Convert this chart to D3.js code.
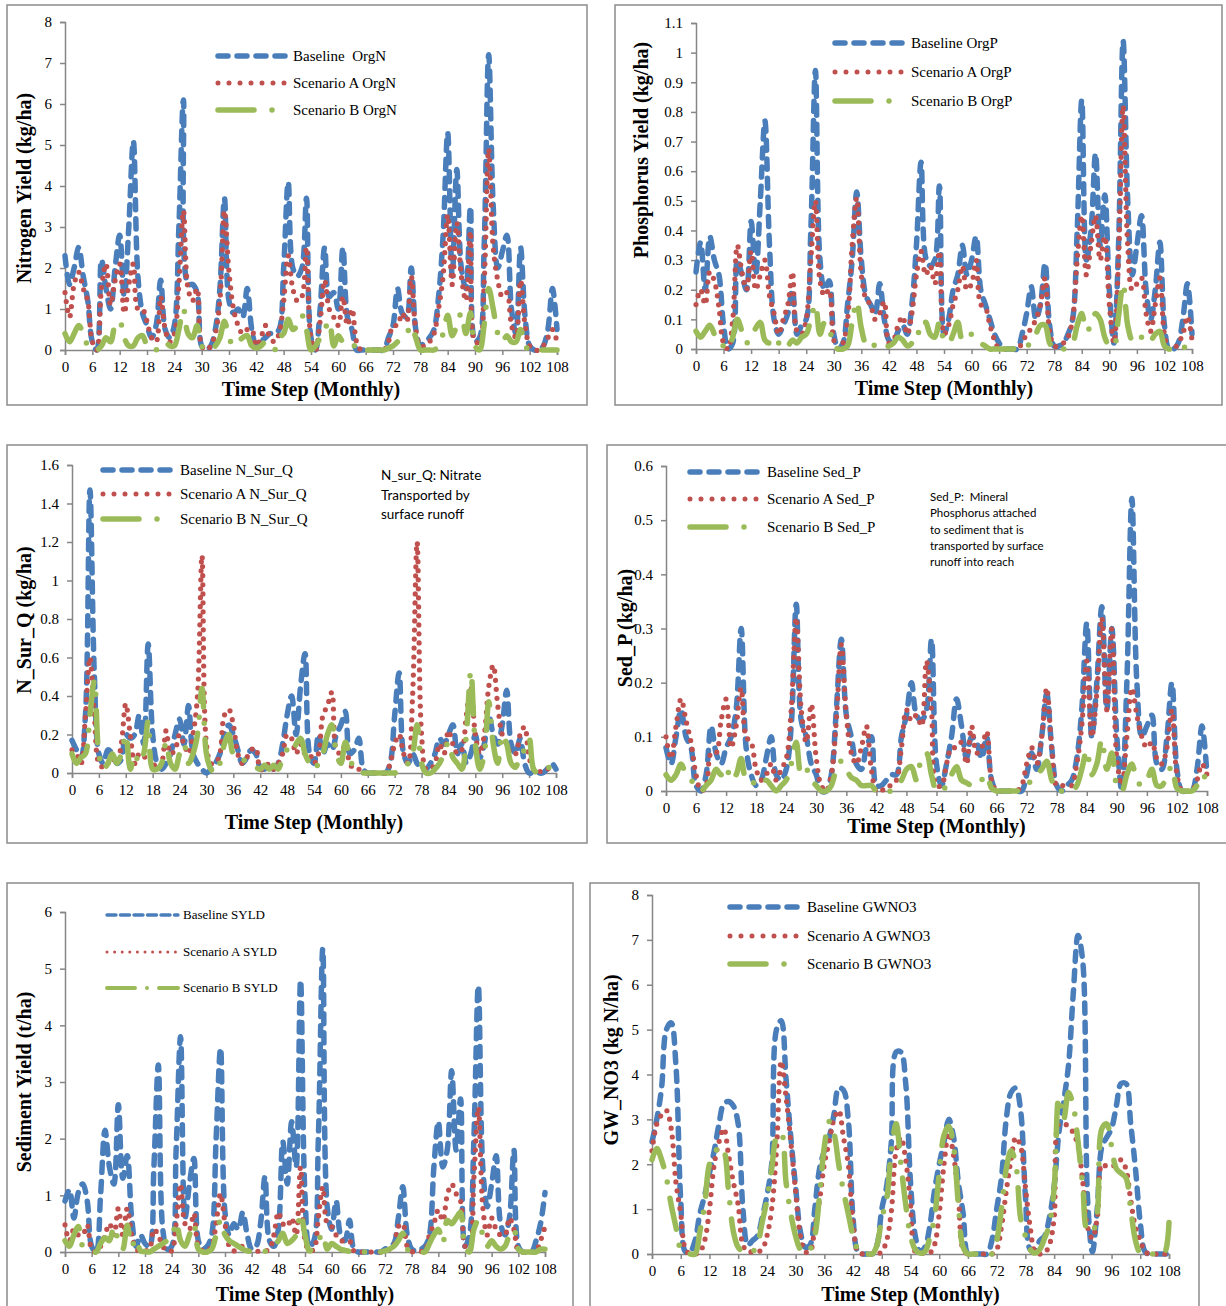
<!DOCTYPE html>
<html>
<head>
<meta charset="utf-8">
<script src="https://cdn.jsdelivr.net/npm/d3@7"></script>
<style>
  body { margin: 0; background: #fff; }
  svg { display: block; }
</style>
</head>
<body>
<svg id="chart" width="1226" height="1306"></svg>
<script>
// months 0..108 and the labelled ticks
var months = d3.range(0, 109)
var xTicks = d3.range(0, 109, 6)

// ---- Organic N (kg/ha)
var orgN_base = [2.3,1.6,2.0,2.5,1.8,1.2,0.2,0,2.2,1.5, 1.0,2.0,2.8,1.3,3.0,5.1,1.8,0.9,0.6,0.3,
  0.6,1.7,0.5,0.3,0.6,3.0,6.1,1.6,1.6,1.4, 0.1,0,0.1,0.5,1.5,3.7,1.2,0.9,1.0,0.8,
  1.5,0.5,0.1,0.2,0.3,0.4,0.4,0.5,2.0,4.1, 2.0,1.8,2.0,3.7,0.3,0,1.0,2.5,1.3,1.4,
  1.0,2.5,0.8,0.5,0,0,0,0,0,0, 0,0.3,0.6,1.5,0.9,0.8,2.0,0.5,0.1,0.2,
  0.3,0.5,1.3,2.8,5.3,1.8,4.4,2.0,1.5,3.5, 0.2,0.3,2.5,7.2,3.5,2.0,2.4,2.8,1.0,0.4,
  2.5,0.8,0.1,0,0,0.1,0.5,1.5,0.5]
var orgN_A = [1.4,0.8,1.6,1.9,1.5,1.2,0.2,0,1.5,2.1, 1.1,1.7,2.1,0.9,1.6,2.1,1.0,1.0,0.7,0.3,
  0.2,1.3,0.5,0.2,0.4,1.6,3.4,1.5,1.2,1.5, 0.1,0,0.1,0.4,1.2,3.4,1.9,1.0,0.6,0.4,
  0.5,0.5,0.1,0.3,0.6,0.3,0.2,0.4,1.2,2.3, 1.5,1.2,1.3,2.5,0.3,0,0.7,1.7,1.0,0.8,
  0.6,1.3,0.6,1.0,0.2,0,0,0,0,0, 0,0.2,0.6,0.6,0.9,0.7,1.8,0.5,0.1,0.1,
  0.2,0.4,1.0,1.8,3.3,1.6,3.1,1.8,1.2,2.9, 0.2,0.2,1.6,4.9,2.5,1.7,1.3,1.4,0.6,0.3,
  1.7,0.6,0.1,0,0,0.1,0.3,0.5,0.2]
var orgN_B = [0.4,0.2,0.4,0.6,0.4,0.1,0,0,0.1,0.3, 0.2,0.6,0.7,0.3,0.1,0.1,0.3,0.35,0.1,0,
  0,0.1,0.2,0.1,0.1,0.5,1.0,0.4,0.3,0.6, 0.1,0,0,0.1,0.3,0.7,0.3,0.1,0.2,0.3,
  0.35,0.1,0.05,0.1,0.2,0.1,0,0.3,0.4,0.75, 0.5,0.6,0.85,0.5,0,0.1,0.3,0.5,0.7,0.1,
  0.35,0.2,0.2,0.2,0,0,0,0,0,0, 0,0.05,0.1,0.2,0.3,0.4,0.6,0.3,0,0,
  0,0,0.1,0.4,0.85,0.35,0.6,0.9,0.4,0.9, 0.1,0,0.6,1.5,1.0,0.4,0.2,0.35,0.2,0.2,
  0.5,0.1,0,0,0,0,0,0,0]

// ---- Organic P (kg/ha)
var orgP_base = [0.26,0.36,0.2,0.38,0.3,0.25,0.08,0,0.02,0.3, 0.25,0.2,0.43,0.25,0.5,0.77,0.35,0.1,0.05,0.08,
  0.12,0.2,0.05,0.08,0.1,0.4,0.94,0.3,0.2,0.23, 0.05,0,0.02,0.15,0.3,0.53,0.3,0.18,0.15,0.12,
  0.22,0.1,0.03,0.02,0.06,0.08,0.05,0.15,0.35,0.63, 0.31,0.28,0.3,0.55,0.05,0.1,0.2,0.25,0.35,0.25,
  0.3,0.38,0.2,0.15,0.1,0.05,0.02,0,0,0, 0,0.05,0.12,0.21,0.1,0.15,0.29,0.08,0.01,0.01,
  0.02,0.05,0.1,0.4,0.84,0.3,0.4,0.66,0.35,0.52, 0.2,0.02,0.35,1.04,0.5,0.25,0.35,0.45,0.2,0.1,
  0.2,0.36,0.08,0,0,0.02,0.1,0.22,0.05]
var orgP_A = [0.15,0.2,0.15,0.26,0.23,0.14,0.02,0,0.1,0.35, 0.26,0.2,0.33,0.2,0.25,0.3,0.18,0.12,0.05,0.1,
  0.15,0.26,0.06,0.05,0.1,0.3,0.5,0.23,0.18,0.2, 0.03,0,0.02,0.1,0.35,0.51,0.25,0.17,0.15,0.1,
  0.12,0.16,0.02,0.03,0.08,0.11,0.05,0.12,0.25,0.33, 0.25,0.28,0.22,0.33,0.05,0.08,0.15,0.2,0.28,0.2,
  0.22,0.3,0.15,0.14,0.08,0.03,0,0,0,0, 0,0.02,0.05,0.07,0.1,0.15,0.24,0.06,0.01,0.01,
  0.02,0.04,0.1,0.3,0.45,0.25,0.35,0.45,0.3,0.38, 0.15,0.02,0.3,0.82,0.35,0.2,0.22,0.24,0.12,0.06,
  0.15,0.24,0.05,0,0,0.02,0.05,0.11,0.03]
var orgP_B = [0.06,0.04,0.06,0.08,0.05,0.02,0.01,0,0.04,0.1, 0.06,0.02,0.04,0.07,0.09,0.03,0.02,0.04,0.02,0,
  0.01,0.03,0.02,0.04,0.05,0.1,0.15,0.05,0.09,0.07, 0.01,0,0,0.01,0.09,0.16,0.07,0.02,0.03,0.01,
  0.02,0.01,0.01,0.02,0.04,0.03,0.01,0.02,0.06,0.05, 0.09,0.05,0.04,0.09,0.03,0.02,0.05,0.09,0.03,0.03,
  0.05,0.04,0.02,0.01,0,0,0,0,0,0, 0,0,0.01,0.02,0.05,0.08,0.08,0.02,0,0,
  0,0.01,0.02,0.08,0.12,0.06,0.08,0.12,0.1,0.04, 0.01,0.01,0.11,0.22,0.08,0.03,0.05,0.04,0.05,0.03,
  0.05,0.06,0.01,0,0,0,0,0.02,0.03]

// ---- Nitrate in surface runoff (kg/ha)
var nsq_base = [0.17,0.12,0.08,0.3,1.47,0.5,0.1,0.05,0.12,0.1, 0.05,0.07,0.2,0.18,0.2,0.3,0.15,0.67,0.2,0.05,
  0.02,0.05,0.1,0.2,0.28,0.15,0.35,0.1,0.05,0.02, 0,0.02,0.05,0.1,0.2,0.25,0.2,0.12,0.05,0.08,
  0.12,0.1,0.03,0.02,0.04,0.02,0.05,0.15,0.3,0.4, 0.2,0.45,0.62,0.1,0.05,0.2,0.1,0.15,0.12,0.2,
  0.25,0.32,0.1,0.12,0.18,0.02,0,0,0,0, 0,0.05,0.3,0.52,0.1,0.05,0.1,0.05,0.02,0.02,
  0.05,0.1,0.18,0.15,0.2,0.25,0.1,0.15,0.05,0.1, 0.2,0.08,0.15,0.3,0.2,0.15,0.25,0.43,0.15,0.1,
  0.18,0.05,0,0,0,0,0.02,0.05,0.02]
var nsq_A = [0.12,0.1,0.05,0.3,0.6,0.3,0.05,0.03,0.05,0.08, 0.05,0.15,0.36,0.2,0.05,0.1,0.08,0.1,0.06,0.02,
  0.05,0.22,0.1,0.12,0.2,0.15,0.1,0.2,0.4,1.13, 0.15,0.05,0.05,0.1,0.3,0.33,0.25,0.1,0.05,0.08,
  0.12,0.13,0.02,0.02,0.05,0.02,0.05,0.1,0.2,0.18, 0.1,0.15,0.1,0.1,0.05,0.1,0.3,0.35,0.42,0.12,
  0.1,0.15,0.05,0.02,0.02,0,0,0,0,0, 0,0.05,0.15,0.2,0.1,0.05,0.4,1.2,0.2,0.02,
  0.02,0.05,0.15,0.1,0.22,0.15,0.1,0.12,0.3,0.44, 0.2,0.1,0.2,0.45,0.56,0.35,0.2,0.15,0.1,0.1,
  0.2,0.24,0.08,0.02,0,0.02,0.02,0.03,0.03]
var nsq_B = [0.1,0.05,0.08,0.1,0.3,0.48,0.1,0.02,0.05,0.1, 0.05,0.1,0.2,0.02,0.1,0.05,0.1,0.27,0.02,0.02,
  0.05,0.16,0.05,0.02,0.1,0.15,0.05,0.1,0.2,0.44, 0.1,0.02,0,0.05,0.15,0.2,0.1,0.1,0.08,0.05,
  0.04,0.03,0.02,0.04,0.02,0.04,0.02,0.08,0.12,0.1, 0.15,0.18,0.1,0.05,0.02,0.05,0.1,0.2,0.25,0.1,
  0.05,0.16,0.08,0.02,0.01,0,0,0,0,0, 0,0,0,0.01,0.02,0.05,0.1,0.25,0.05,0,
  0,0.02,0.05,0.1,0.16,0.08,0.05,0.02,0.2,0.53, 0.15,0.02,0.1,0.37,0.15,0.05,0.2,0.15,0.05,0.03,
  0.1,0.12,0.18,0.02,0,0,0.02,0.04,0.05]

// ---- Mineral P attached to sediment (kg/ha)
var sedP_base = [0.08,0.05,0.1,0.15,0.1,0.08,0.01,0,0.03,0.12, 0.07,0.05,0.08,0.1,0.15,0.3,0.08,0.03,0.01,0.02,
  0.06,0.1,0.03,0.02,0.04,0.12,0.345,0.13,0.1,0.05, 0.03,0,0,0.03,0.15,0.28,0.14,0.1,0.05,0.04,
  0.08,0.1,0.01,0.01,0.02,0.03,0.03,0.1,0.14,0.2, 0.14,0.13,0.15,0.28,0.05,0.01,0.05,0.1,0.17,0.12,
  0.06,0.1,0.09,0.06,0.1,0.02,0,0,0,0, 0,0,0.03,0.07,0.04,0.1,0.18,0.08,0.01,0,
  0.01,0.02,0.06,0.15,0.31,0.1,0.2,0.34,0.15,0.3, 0.1,0,0.2,0.54,0.2,0.1,0.12,0.14,0.05,0.04,
  0.1,0.2,0.04,0,0,0,0.04,0.12,0.03]
var sedP_A = [0.1,0.06,0.12,0.17,0.13,0.09,0.03,0,0.01,0.07, 0.07,0.13,0.17,0.08,0.12,0.19,0.1,0.09,0.04,0.02,
  0.03,0.05,0.02,0.04,0.06,0.15,0.32,0.15,0.09,0.16, 0.06,0.01,0,0.03,0.13,0.27,0.14,0.07,0.05,0.08,
  0.12,0.04,0,0,0.01,0.01,0.02,0.08,0.15,0.13, 0.14,0.12,0.24,0.15,0.01,0.01,0.05,0.08,0.08,0.09,
  0.05,0.12,0.07,0.08,0.11,0.02,0,0,0,0, 0,0.01,0.05,0.08,0.05,0.1,0.19,0.08,0.01,0.01,
  0.01,0.01,0.05,0.12,0.24,0.1,0.18,0.32,0.15,0.3, 0.06,0.01,0.1,0.19,0.14,0.1,0.08,0.09,0.06,0.05,
  0.08,0.15,0.03,0,0,0,0.02,0.05,0.03]
var sedP_B = [0.03,0.02,0.03,0.05,0.03,0.02,0.01,0,0.01,0.02, 0.04,0.03,0.045,0.02,0.03,0.06,0.02,0.02,0.01,0.01,
  0.02,0.01,0,0.01,0.02,0.05,0.09,0.03,0.04,0.02, 0.01,0,0,0.01,0.04,0.055,0.04,0.025,0.02,0.01,
  0.01,0.01,0,0,0,0,0.01,0.02,0.04,0.045, 0.02,0.06,0.07,0.03,0,0,0.01,0.03,0.045,0.02,
  0.015,0.01,0.01,0.02,0.03,0.005,0,0,0,0, 0,0,0.01,0.02,0.03,0.04,0.055,0.02,0,0,
  0,0,0.01,0.04,0.075,0.03,0.05,0.095,0.04,0.07, 0.01,0,0.03,0.05,0.02,0.01,0.02,0.04,0.01,0.01,
  0.03,0.045,0.005,0,0,0,0.01,0.03,0.02]

// ---- Sediment yield (t/ha)
var syld_base = [0.9,1.1,0.6,1.05,1.2,0.9,0.1,0,1.0,2.15, 1.5,1.2,2.6,1.3,1.7,0.6,0.1,0.3,0.15,0.1,
  1.5,3.3,0.4,0.05,0.1,1.8,3.8,0.6,1.2,1.65, 0.2,0.05,0.1,0.3,2.0,3.6,0.7,0.3,0.5,0.4,
  0.7,0.3,0.05,0.1,0.5,1.33,0.2,0.1,0.4,1.95, 1.2,2.3,1.5,4.8,1.0,0.1,0.2,2.0,5.35,0.8,
  0.4,0.9,0.3,0.2,0.56,0.05,0,0,0,0, 0,0,0.05,0.1,0.15,0.6,1.15,0.3,0.05,0.02,
  0.05,0.1,0.3,1.5,2.3,1.5,1.8,3.2,1.8,2.7, 0.1,0.3,2.0,4.7,1.5,0.8,1.2,1.7,0.5,0.3,
  0.6,1.8,0.1,0,0,0,0.2,0.5,1.05]
var syld_A = [0.48,0.2,0.4,0.3,0.3,0.48,0.05,0,0.1,0.3, 0.5,0.3,0.77,0.3,0.77,0.3,0.05,0.02,0.02,0.05,
  0.4,0.3,0.1,0.02,0.02,0.5,1.2,0.5,0.4,0.68, 0.1,0.02,0.02,0.1,0.5,1.03,0.5,0.1,0.02,0.05,
  0.1,0.02,0.02,0.01,0.02,0.02,0.05,0.3,0.7,0.5, 0.45,0.6,0.3,1.5,0.2,0.02,0.05,0.6,1.15,0.5,
  0.45,0.3,0.2,0.2,0.2,0.02,0,0,0,0, 0,0,0.02,0.05,0.1,0.45,0.5,0.1,0.01,0.01,
  0.01,0.02,0.3,0.5,0.74,0.55,1.0,1.2,1.03,0.9, 0.1,0.02,1.3,2.55,0.8,0.3,0.6,0.4,0.3,0.3,
  0.6,0.4,0.02,0,0,0,0.02,0.2,0.45]
var syld_B = [0.2,0.1,0.3,0.45,0.1,0.05,0.01,0,0.15,0.25, 0.2,0.45,0.2,0.05,0.47,0.1,0.24,0.02,0.01,0,
  0.05,0.1,0.15,0.2,0.25,0.53,0.2,0.1,0.3,0.5, 0.05,0,0,0.05,0.3,0.56,0.3,0.2,0.15,0.1,
  0.05,0.02,0.01,0.01,0.01,0.01,0.05,0.1,0.2,0.33, 0.15,0.2,0.3,0.68,0.3,0.02,0.1,0.2,0.33,0.05,
  0.15,0.1,0.05,0.03,0.01,0,0,0,0,0, 0,0,0.02,0.05,0.1,0.2,0.33,0.05,0,0,
  0,0,0.15,0.3,0.4,0.15,0.56,0.5,0.6,0.7, 0.1,0,0.4,0.56,0.3,0.1,0.2,0.1,0.05,0.1,
  0.3,0.4,0.05,0,0,0,0,0.05,0.05]

// ---- Groundwater nitrate (kg N/ha)
var gw_base = [2.5,3.0,3.7,5.0,5.15,4.2,1.2,0.05,0.05,0.3, 0.9,1.3,1.8,2.3,2.9,3.35,3.4,3.3,2.9,1.0,
  0.2,0.3,0.4,0.8,1.3,2.0,5.0,5.2,3.9,2.6, 1.5,0.5,0.15,0.2,1.0,1.9,2.3,2.6,3.1,3.7,
  3.65,3.0,0.8,0.05,0,0,0,0.2,1.0,1.5, 2.5,4.5,4.5,3.8,1.6,0.4,0.05,0.15,0.6,1.4,
  2.0,2.5,3.0,2.6,1.6,0.9,0,0,0,0, 0,0.3,1.0,1.7,3.0,3.6,3.7,3.2,1.3,0.1,
  0.05,0.3,0.4,0.8,1.5,2.7,3.4,4.2,5.8,7.1, 6.5,1.2,0.05,1.0,2.4,2.6,2.8,3.3,3.8,3.8,
  2.9,1.9,0.7,0.05,0,0,0,0,0]
var gw_A = [2.3,2.9,3.1,3.2,2.8,1.6,0.9,0.1,0,0, 0.05,0.3,1.0,2.0,2.5,2.8,2.2,1.6,1.1,0.2,
  0.05,0.05,0.05,0.1,0.4,1.0,2.3,4.3,3.5,2.5, 1.4,0.4,0.05,0.05,0.6,1.2,2.0,2.5,3.0,3.2,
  2.6,2.0,0.7,0.05,0,0,0,0,0.05,0.3, 0.95,2.3,2.6,2.1,1.1,0.05,0.02,0.02,0.02,0.2,
  0.9,2.0,2.7,2.2,1.3,0.1,0,0,0,0, 0,0,0.1,0.6,1.4,2.1,2.6,2.4,1.5,0.6,
  0.05,0,0.02,0.2,0.8,2.9,2.9,2.85,2.7,2.4, 1.6,0.6,0.35,0.8,2.0,1.95,1.95,2.0,2.1,1.9,
  1.2,0.6,0.3,0.05,0,0,0,0,0]
var gw_B = [2.1,2.35,2.1,1.7,1.1,0.6,0.1,0,0,0, 0.5,1.1,2.0,2.2,2.4,2.3,1.4,0.5,0.15,0.05,
  0.02,0.05,0.2,0.7,1.2,1.9,2.6,2.7,1.6,0.9, 0.4,0.1,0.02,0.1,0.4,1.3,2.4,2.95,2.7,2.0,
  1.4,0.9,0.4,0.1,0,0,0,0.2,0.8,1.2, 2.3,2.9,2.0,1.1,0.4,0.1,0.02,0.05,0.35,0.8,
  1.8,2.65,2.85,2.4,1.1,0.15,0,0,0,0, 0,0,0.3,1.0,1.9,2.3,2.0,0.8,0.4,0.1,
  0.02,0.1,0.35,0.65,1.46,3.5,3.0,3.6,3.3,2.5, 1.5,0.5,0.5,0.9,2.8,2.9,2.4,1.9,1.8,1.7,
  1.0,0.3,0.02,0,0,0,0,0,0.7]

// legend labels
var orgN_names = ['Baseline  OrgN', 'Scenario A OrgN', 'Scenario B OrgN']
var orgP_names = ['Baseline OrgP', 'Scenario A OrgP', 'Scenario B OrgP']
var nsq_names = ['Baseline N_Sur_Q', 'Scenario A N_Sur_Q', 'Scenario B N_Sur_Q']
var sedP_names = ['Baseline Sed_P', 'Scenario A Sed_P', 'Scenario B Sed_P']
var syld_names = ['Baseline SYLD', 'Scenario A SYLD', 'Scenario B SYLD']
var gw_names = ['Baseline GWNO3', 'Scenario A GWNO3', 'Scenario B GWNO3']

var nsqNote = ['N_sur_Q: Nitrate', 'Transported by', 'surface runoff']
var sedPNote = ['Sed_P:  Mineral', 'Phosphorus attached', 'to sediment that is', 'transported by surface', 'runoff into reach']

//
// Styles
//

var serif = '"Liberation Serif", "Times New Roman", serif'
var sans = 'Lato, "Open Sans", sans-serif'
var axisColor = '#868686'

var lineStyles = [
  { color: '#4a7ebb', width: 5.5, dash: '10 9' },
  { color: '#c0504d', width: 5.2, dash: '0 9' },
  { color: '#9bbb59', width: 5.5, dash: '32 16 0 16' }
]
var legendStyles = [
  { color: '#4a7ebb', width: 5.5, dash: '10 9' },
  { color: '#c0504d', width: 5, dash: '0 11' },
  { color: '#9bbb59', width: 5.5, dash: '36 18 0 18' }
]
var thinLegend = [
  { color: '#4a7ebb', width: 3.4, dash: '9 4.5' },
  { color: '#c0504d', width: 3, dash: '0 7.6' },
  { color: '#9bbb59', width: 4, dash: '28 12 0 12' }
]

var panels = [
  { box: [7, 5, 587, 405], plot: [65, 557, 22, 350], ymax: 8, ystep: 1,
    series: [orgN_base, orgN_A, orgN_B], names: orgN_names,
    ytitle: 'Nitrogen Yield (kg/ha)', yt: [24, 188], xty: 396,
    legend: { x: 218, w: 67, tx: 293, ys: [56, 83, 110], fs: 15 } },
  { box: [615, 5, 1222, 405], plot: [696, 1192, 23, 349], ymax: 1.1, ystep: 0.1,
    series: [orgP_base, orgP_A, orgP_B], names: orgP_names,
    ytitle: 'Phosphorus Yield (kg/ha)', yt: [641, 150], xty: 395,
    legend: { x: 835, w: 68, tx: 911, ys: [43, 72, 101], fs: 15 } },
  { box: [7, 445, 587, 843], plot: [72, 556, 465, 773], ymax: 1.6, ystep: 0.2,
    series: [nsq_base, nsq_A, nsq_B], names: nsq_names,
    ytitle: 'N_Sur_Q (kg/ha)', yt: [24, 620], xty: 829,
    legend: { x: 103, w: 70, tx: 180, ys: [470, 494, 519], fs: 15 },
    note: { lines: nsqNote, x: 381, y: 480, dy: 19.5, fs: 13.5 } },
  { box: [607, 445, 1232, 843], plot: [666, 1207, 466, 791], ymax: 0.6, ystep: 0.1,
    series: [sedP_base, sedP_A, sedP_B], names: sedP_names,
    ytitle: 'Sed_P (kg/ha)', yt: [625, 628], xty: 833,
    legend: { x: 690, w: 70, tx: 767, ys: [472, 499, 527], fs: 15 },
    note: { lines: sedPNote, x: 930, y: 501, dy: 16.3, fs: 11.5 } },
  { box: [7, 883, 573, 1312], plot: [65, 545, 912, 1252], ymax: 6, ystep: 1,
    series: [syld_base, syld_A, syld_B], names: syld_names,
    ytitle: 'Sediment Yield (t/ha)', yt: [24, 1082], xty: 1301,
    legend: { x: 107, w: 71, tx: 183, ys: [915, 952, 988], fs: 13, thin: true } },
  { box: [590, 883, 1199, 1312], plot: [652, 1169, 895, 1254], ymax: 8, ystep: 1,
    series: [gw_base, gw_A, gw_B], names: gw_names,
    ytitle: 'GW_NO3 (kg N/ha)', yt: [611, 1060], xty: 1301,
    legend: { x: 730, w: 70, tx: 807, ys: [907, 936, 964], fs: 15 } }
]

//
// Drawing
//

var svg = d3.select('#chart')

function drawPanel(p) {
  var g = svg.append('g')
  var left = p.plot[0], right = p.plot[1], top = p.plot[2], bottom = p.plot[3]

  g.append('rect')
    .attr('x', p.box[0]).attr('y', p.box[1])
    .attr('width', p.box[2] - p.box[0]).attr('height', p.box[3] - p.box[1])
    .attr('fill', 'none').attr('stroke', '#8c8c8c').attr('stroke-width', 1.5)

  var x = d3.scaleLinear().domain([0, 108]).range([left, right])
  var y = d3.scaleLinear().domain([0, p.ymax]).range([bottom, top])

  var n = Math.round(p.ymax / p.ystep)
  var yTicks = d3.range(0, n + 1).map(function (k) { return +(k * p.ystep).toFixed(3) })

  // y axis
  var yAxis = d3.axisLeft(y).tickValues(yTicks).tickSize(5).tickPadding(8)
    .tickFormat(function (d) { return String(d) })
  var ya = g.append('g').attr('transform', 'translate(' + left + ',0)').call(yAxis)

  // x axis
  var xAxis = d3.axisBottom(x).tickValues(xTicks).tickSize(5).tickPadding(6)
    .tickFormat(function (d) { return String(d) })
  var xa = g.append('g').attr('transform', 'translate(0,' + bottom + ')').call(xAxis)

  ;[ya, xa].forEach(function (a) {
    a.select('.domain').attr('stroke', axisColor).attr('stroke-width', 1.5)
    a.selectAll('.tick line').attr('stroke', axisColor).attr('stroke-width', 1.5)
    a.selectAll('.tick text').attr('fill', '#000')
      .style('font-family', serif).style('font-size', '15px')
  })

  // series, smoothed like the spreadsheet lines
  var line = d3.line()
    .x(function (d, i) { return x(months[i]) })
    .y(function (d) { return y(d) })
    .curve(d3.curveCatmullRom.alpha(0.5))

  p.series.forEach(function (s, k) {
    var st = lineStyles[k]
    g.append('path')
      .datum(s)
      .attr('d', line)
      .attr('fill', 'none')
      .attr('stroke', st.color)
      .attr('stroke-width', st.width)
      .attr('stroke-dasharray', st.dash)
      .attr('stroke-linecap', 'round')
      .attr('stroke-linejoin', 'round')
  })

  // legend
  var L = p.legend
  var styles = L.thin ? thinLegend : legendStyles
  p.names.forEach(function (name, k) {
    var st = styles[k]
    g.append('line')
      .attr('x1', L.x).attr('x2', L.x + L.w)
      .attr('y1', L.ys[k]).attr('y2', L.ys[k])
      .attr('stroke', st.color).attr('stroke-width', st.width)
      .attr('stroke-dasharray', st.dash).attr('stroke-linecap', 'round')
    g.append('text')
      .attr('x', L.tx).attr('y', L.ys[k])
      .attr('dy', '0.33em')
      .style('font-family', serif).style('font-size', L.fs + 'px')
      .style('white-space', 'pre')
      .text(name)
  })

  if (p.note) {
    p.note.lines.forEach(function (t, k) {
      g.append('text')
        .attr('x', p.note.x).attr('y', p.note.y + k * p.note.dy)
        .style('font-family', sans).style('font-size', p.note.fs + 'px')
        .style('white-space', 'pre')
        .text(t)
    })
  }

  // axis titles
  g.append('text')
    .attr('x', (left + right) / 2).attr('y', p.xty)
    .attr('text-anchor', 'middle')
    .style('font-family', serif).style('font-size', '20px').style('font-weight', 'bold')
    .text('Time Step (Monthly)')

  g.append('text')
    .attr('transform', 'translate(' + p.yt[0] + ',' + p.yt[1] + ') rotate(-90)')
    .attr('text-anchor', 'middle').attr('dy', '0.35em')
    .style('font-family', serif).style('font-size', '20px').style('font-weight', 'bold')
    .text(p.ytitle)
}

panels.forEach(drawPanel)
</script>
</body>
</html>
